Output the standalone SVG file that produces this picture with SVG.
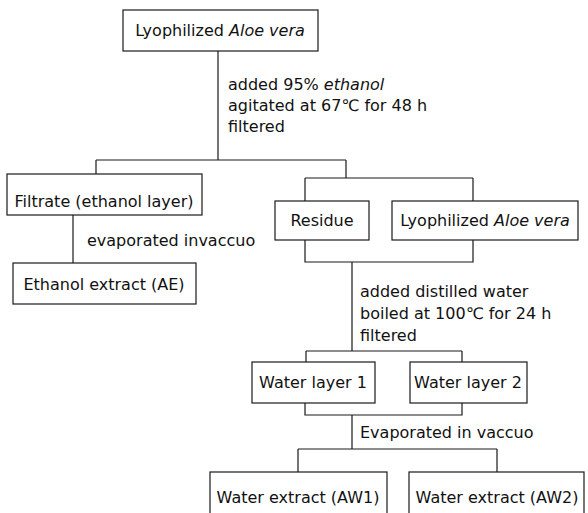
<svg xmlns="http://www.w3.org/2000/svg" width="588" height="513" viewBox="0 0 588 513">
<style>
  .box { fill: #fff; stroke: #1a1a1a; stroke-width: 1.2; }
  .ln { fill: none; stroke: #1a1a1a; stroke-width: 1.2; }
  text { font-family: "DejaVu Sans", "Liberation Sans", sans-serif; font-size: 16px; fill: #111; }
  .c { text-anchor: middle; }
  .i { font-style: italic; }
</style>
<rect width="588" height="513" fill="#fff"/>
<g id="connectors">
  <path class="ln" d="M218 51 V160 M96 160 H346 M96 160 V174 M346 160 V178"/>
  <path class="ln" d="M305 178 H473 M305 178 V201 M473 178 V201"/>
  <path class="ln" d="M73 215 V263"/>
  <path class="ln" d="M305 240 V262 H473 V240 M352 262 V351"/>
  <path class="ln" d="M306 351 H462 M306 351 V362 M462 351 V362"/>
  <path class="ln" d="M305 403 V415 H462 V403 M352 415 V449"/>
  <path class="ln" d="M298 449 H497 M298 449 V472 M497 449 V472"/>
  <text x="228" y="90">added 95% <tspan class="i">ethanol</tspan></text>
  <text x="228" y="111">agitated at 67℃ for 48 h</text>
  <text x="228" y="132">filtered</text>
  <text x="87" y="246">evaporated invaccuo</text>
  <text x="360" y="297">added distilled water</text>
  <text x="360" y="319">boiled at 100℃ for 24 h</text>
  <text x="360" y="341">filtered</text>
  <text x="360" y="438">Evaporated in vaccuo</text>
</g>
<g id="n-top">
  <rect class="box" x="123" y="10" width="195" height="41"/>
  <text class="c" x="220" y="36">Lyophilized <tspan class="i">Aloe vera</tspan></text>
</g>
<g id="n-filtrate">
  <rect class="box" x="7" y="174" width="195" height="41"/>
  <text class="c" x="104" y="207">Filtrate (ethanol layer)</text>
</g>
<g id="n-ethanol">
  <rect class="box" x="13" y="263" width="183" height="41"/>
  <text class="c" x="104" y="290">Ethanol extract (AE)</text>
</g>
<g id="n-residue">
  <rect class="box" x="275" y="201" width="94" height="39"/>
  <text class="c" x="322" y="226">Residue</text>
</g>
<g id="n-lyo2">
  <rect class="box" x="392" y="201" width="186" height="39"/>
  <text class="c" x="485" y="226">Lyophilized <tspan class="i">Aloe vera</tspan></text>
</g>
<g id="n-wl1">
  <rect class="box" x="252" y="362" width="123" height="41"/>
  <text class="c" x="313" y="388">Water layer 1</text>
</g>
<g id="n-wl2">
  <rect class="box" x="410" y="362" width="117" height="41"/>
  <text class="c" x="468" y="388">Water layer 2</text>
</g>
<g id="n-aw1">
  <rect class="box" x="210" y="472" width="177" height="60"/>
  <text class="c" x="298" y="503">Water extract (AW1)</text>
</g>
<g id="n-aw2">
  <rect class="box" x="409" y="472" width="175" height="60"/>
  <text class="c" x="497" y="503">Water extract (AW2)</text>
</g>
</svg>
